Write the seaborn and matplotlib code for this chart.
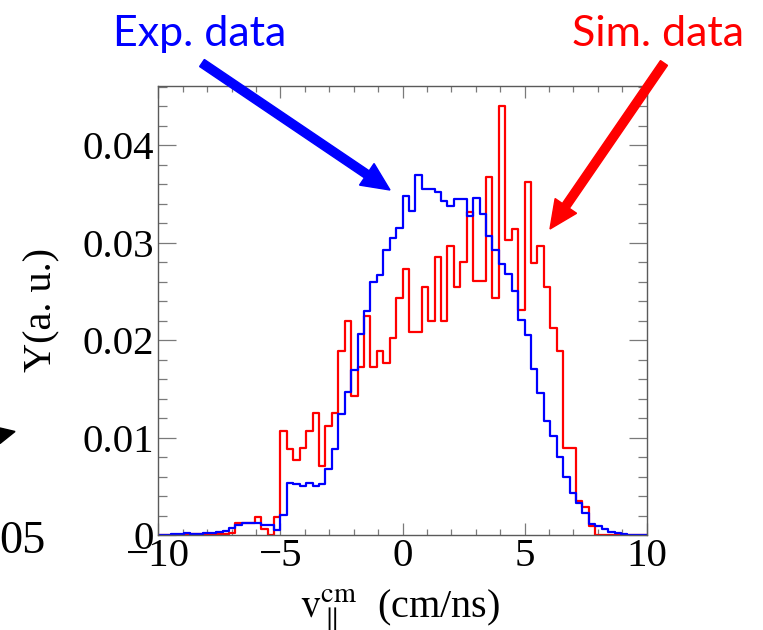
import numpy as np
import pandas as pd
import matplotlib
matplotlib.use("Agg")
import matplotlib.pyplot as plt
import seaborn as sns
from matplotlib.ticker import MultipleLocator
from matplotlib.patches import FancyArrow, Polygon
from matplotlib.transforms import IdentityTransform

# Parallel velocity in the centre-of-mass frame, 76 bins between -10 and 10 cm/ns
v_range = (-10.0, 10.0)
n_bins = 76

# Normalised yields per bin (experiment)
exp_yield = [
    0.00003, 0.00005, 0.00007, 0.00010, 0.00017, 0.00014, 0.00012, 0.00017,
    0.00024, 0.00034, 0.00045, 0.00069, 0.00103, 0.00120, 0.00127, 0.00127,
    0.00103, 0.00105, 0.00051, 0.00206, 0.00531, 0.00520, 0.00504, 0.00531,
    0.00504, 0.00520, 0.00680, 0.00887, 0.01247, 0.01470, 0.01689, 0.02062,
    0.02295, 0.02597, 0.02665, 0.02922, 0.03045, 0.03155, 0.03477, 0.03323,
    0.03693, 0.03553, 0.03553, 0.03518, 0.03426, 0.03374, 0.03450, 0.03450,
    0.03279, 0.03460, 0.03299, 0.03073, 0.02929, 0.02782, 0.02679, 0.02508,
    0.02203, 0.02056, 0.01703, 0.01463, 0.01172, 0.01017, 0.00805, 0.00600,
    0.00435, 0.00326, 0.00223, 0.00110, 0.00093, 0.00058, 0.00034, 0.00017,
    0.00007, 0.00005, 0.00003, 0.00005,
]

# Normalised yields per bin (simulation)
sim_yield = [
    0.0, 0.0, 0.00005, 0.00005, 0.00010, 0.00010, 0.00010, 0.00010,
    0.00010, 0.00015, 0.00015, 0.00020, 0.00120, 0.00120, 0.00120, 0.00182,
    0.00058, 0.0, 0.00182, 0.0107, 0.0088, 0.0077, 0.0089, 0.0107,
    0.0125, 0.0071, 0.0112, 0.0125, 0.0189, 0.0220, 0.0143, 0.0172,
    0.0225, 0.0172, 0.0189, 0.0177, 0.0202, 0.0243, 0.0273, 0.0208,
    0.0208, 0.0255, 0.0220, 0.0285, 0.0220, 0.0297, 0.0255, 0.0280,
    0.0332, 0.0261, 0.0261, 0.0368, 0.0243, 0.0440, 0.0303, 0.0314,
    0.0231, 0.0362, 0.0279, 0.0297, 0.0255, 0.0213, 0.0189, 0.0089,
    0.0089, 0.0035, 0.0029, 0.0009, 0.0, 0.0, 0.0, 0.0,
    0.0, 0.0, 0.0, 0.0,
]

x_ticks = [-10, -5, 0, 5, 10]
x_tick_labels = ["\u221210", "\u22125", "0", "5", "10"]
y_ticks = [0.0, 0.01, 0.02, 0.03, 0.04]
y_tick_labels = ["0", "0.01", "0.02", "0.03", "0.04"]

edges = np.linspace(v_range[0], v_range[1], n_bins + 1)
centers = 0.5 * (edges[:-1] + edges[1:])
df = pd.DataFrame({
    "v": np.concatenate([centers, centers]),
    "Y": np.concatenate([exp_yield, sim_yield]),
    "sample": ["Exp. data"] * n_bins + ["Sim. data"] * n_bins,
})

sns.set_style("ticks")
plt.rcParams["font.family"] = ["Liberation Serif", "DejaVu Serif"]
plt.rcParams["mathtext.fontset"] = "stix"
plt.rcParams["text.color"] = "black"
plt.rcParams["axes.labelcolor"] = "black"

W, H = 763, 630
fig = plt.figure(figsize=(W / 100, H / 100), dpi=100)
ax_l, ax_r, ax_t, ax_b = 158.3, 646.7, 86.0, 535.0
ax = fig.add_axes([ax_l / W, (H - ax_b) / H, (ax_r - ax_l) / W, (ax_b - ax_t) / H])

colors = {"Exp. data": "#0000ff", "Sim. data": "#ff0000"}
for name in ["Sim. data", "Exp. data"]:
    sns.histplot(data=df[df["sample"] == name], x="v", weights="Y",
                 bins=n_bins, binrange=v_range,
                 element="step", fill=False, color=colors[name],
                 linewidth=1.6, ax=ax)

ax.set_xlim(*v_range)
ax.set_ylim(0, 0.0461)
ax.set_xlabel("")
ax.set_ylabel("")
ax.set_xticks(x_ticks)
ax.set_xticklabels(x_tick_labels)
ax.set_yticks(y_ticks)
ax.set_yticklabels(y_tick_labels)
ax.xaxis.set_minor_locator(MultipleLocator(1))
ax.yaxis.set_minor_locator(MultipleLocator(0.002))
ax.tick_params(which="both", direction="in", top=True, right=True,
               color="#7a7a7a", width=0.9, labelcolor="black", labelsize=29.5)
ax.tick_params(axis="x", which="major", length=8.6, pad=2)
ax.tick_params(axis="x", which="minor", length=4.3)
ax.tick_params(axis="y", which="major", length=13, pad=3)
ax.tick_params(axis="y", which="minor", length=6.5)
for sp in ax.spines.values():
    sp.set_visible(True)
    sp.set_color("#5a5a5a")
    sp.set_linewidth(1.0)

# Axis titles
fig.text(400 / W, (H - 617) / H,
         r"$\mathrm{v}_{\parallel}^{\mathrm{cm}}$  (cm/ns)",
         ha="center", va="baseline", fontsize=29, color="black")
fig.text(42 / W, (H - 310) / H, "Y(a. u.)", rotation=90,
         ha="center", va="center", fontsize=29, color="black")

# Callouts
fig.text(200 / W, (H - 46) / H, "Exp. data", color="#0000ff",
         family="Lato", fontsize=31, ha="center", va="baseline")
fig.text(658 / W, (H - 46) / H, "Sim. data", color="#ff0000",
         family="Lato", fontsize=31, ha="center", va="baseline")


def arrow(x0, y0, x1, y1, color):
    a = FancyArrow(x0, H - y0, x1 - x0, -(y1 - y0), width=8.5,
                   head_width=26, head_length=28, length_includes_head=True,
                   color=color, transform=IdentityTransform())
    fig.add_artist(a)


arrow(202, 63, 390, 190, "#0000ff")
arrow(664, 63, 550, 229, "#ff0000")

# Neighbouring panel edge
fig.add_artist(Polygon([(0, H - 428), (15, H - 431.5), (0, H - 443.5)],
                       closed=True, color="black", transform=IdentityTransform()))
fig.text(-1 / W, (H - 553) / H, "05", ha="left", va="baseline",
         fontsize=33.5, color="black")

fig.savefig("out.png", dpi=100)
